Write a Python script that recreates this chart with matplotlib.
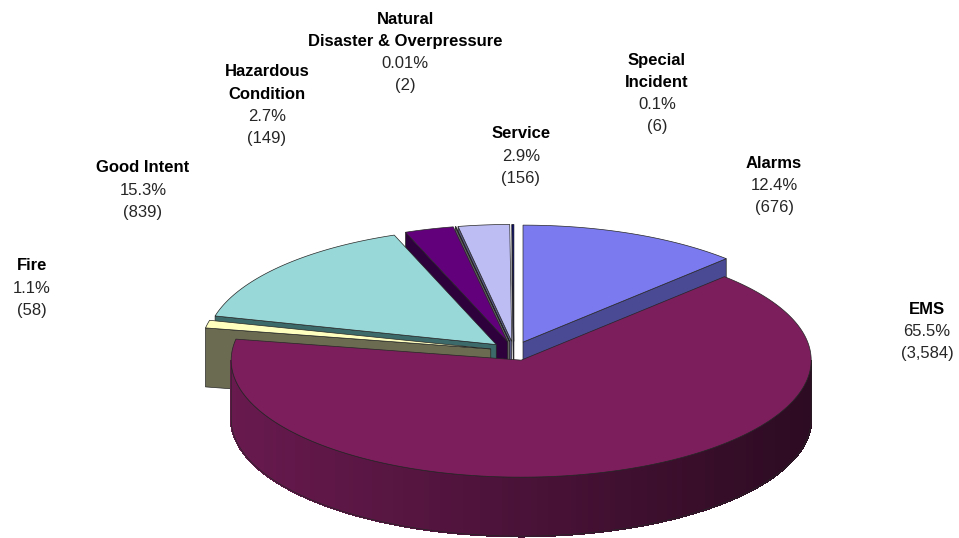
"""3-D exploded pie of incident types (Excel style), drawn by hand with
polygons in pixel coordinates so the tilt and side walls can be matched."""
import matplotlib
matplotlib.use("Agg")
import matplotlib.pyplot as plt  # noqa: E402
from matplotlib.patches import Polygon  # noqa: E402
import numpy as np  # noqa: E402

categories = ["Alarms", "EMS", "Fire", "Good Intent", "Hazardous\nCondition",
              "Natural\nDisaster & Overpressure", "Service", "Special\nIncident"]
counts = [676, 3584, 58, 839, 149, 2, 156, 6]
pct_labels = ["12.4%", "65.5%", "1.1%", "15.3%", "2.7%", "0.01%", "2.9%", "0.1%"]

top_colors = ["#7b7bef", "#7b1e5b", "#ffffc0", "#99d8d8", "#62007c",
              "#c0c0c0", "#bdbdf4", "#000070"]
wall_colors = ["#4a4a94", "#6a1a50", "#6b6b52", "#3c6a6a", "#2e003c",
               "#606060", "#5a5a8a", "#000040"]
# label anchor (centre of first line), pixels from top-left
label_pos = [(774, 163), (927, 309), (32, 266), (143, 168), (267, 72),
             (405, 19), (521, 134), (657, 60)]

W, H = 959, 538
A, B = 290, 117          # ellipse semi-axes of the top face
DEPTH = 59
CX, CY = 514, 351
EXPLODE = 0.082
EDGE = dict(edgecolor="#262626", linewidth=0.5)


def rim(vx, vy, th, dz=0.0):
    return np.column_stack([vx + A * np.sin(th), vy - B * np.cos(th) + dz])


def shade(hexcol, f):
    c = np.array(matplotlib.colors.to_rgb(hexcol))
    return tuple(np.clip(c * f, 0, 1))


fig = plt.figure(figsize=(W / 100, H / 100), dpi=100)
ax = fig.add_axes([0, 0, 1, 1])
ax.set_xlim(0, W)
ax.set_ylim(H, 0)
ax.axis("off")

frac = np.array(counts) / sum(counts)
ends = np.cumsum(frac) * 2 * np.pi
starts = ends - frac * 2 * np.pi
slices = []
for i in range(len(counts)):
    mid = (starts[i] + ends[i]) / 2
    vx = CX + EXPLODE * A * np.sin(mid)
    vy = CY - EXPLODE * B * np.cos(mid)
    slices.append((vy, i, vx, starts[i], ends[i]))
slices.sort()

z = 1
# side walls, back to front
for vy, i, vx, t1, t2 in slices:
    V = np.array([vx, vy])
    for t, vis in ((t1, np.sin(t1) < -1e-9), (t2, np.sin(t2) > 1e-9)):
        if vis:
            p = rim(vx, vy, np.array([t]))[0]
            quad = [V, p, p + [0, DEPTH], V + [0, DEPTH]]
            ax.add_patch(Polygon(quad, closed=True, facecolor=wall_colors[i],
                                 zorder=z, **EDGE))
            z += 1
    a0, a1 = max(t1, np.pi / 2), min(t2, 3 * np.pi / 2)
    if a1 > a0:
        th = np.linspace(a0, a1, 160)
        topr = rim(vx, vy, th)
        botr = rim(vx, vy, th, DEPTH)
        for k in range(len(th) - 1):
            s = np.sin((th[k] + th[k + 1]) / 2)
            col = shade(wall_colors[i], 0.98 - 0.56 * (s + 1) / 2)
            strip = [topr[k], topr[k + 1], botr[k + 1], botr[k]]
            ax.add_patch(Polygon(strip, closed=True, facecolor=col,
                                 edgecolor=col, linewidth=1.0,
                                 antialiased=False, zorder=z))
        outline = np.vstack([topr, botr[::-1]])
        ax.add_patch(Polygon(outline, closed=True, fill=False, zorder=z + 1,
                             **EDGE))
        z += 2

# top faces, back to front
for vy, i, vx, t1, t2 in slices:
    n = max(3, int((t2 - t1) / (2 * np.pi) * 400))
    th = np.linspace(t1, t2, n)
    poly = np.vstack([[vx, vy], rim(vx, vy, th)])
    ax.add_patch(Polygon(poly, closed=True, facecolor=top_colors[i], zorder=z,
                         **EDGE))
    z += 1

# labels
LINE = 22.3
for i, name in enumerate(categories):
    x, y = label_pos[i]
    lines = name.split("\n")
    for j, ln in enumerate(lines):
        ax.text(x, y + j * LINE, ln, ha="center", va="center", fontsize=12,
                fontweight="bold", family="Liberation Sans", color="black")
    y += len(lines) * LINE
    ax.text(x, y, pct_labels[i], ha="center", va="center", fontsize=12,
            family="Liberation Sans", color="#262626")
    ax.text(x, y + LINE, f"({counts[i]:,})", ha="center", va="center",
            fontsize=12, family="Liberation Sans", color="#262626")

fig.savefig("out.png", dpi=100)
